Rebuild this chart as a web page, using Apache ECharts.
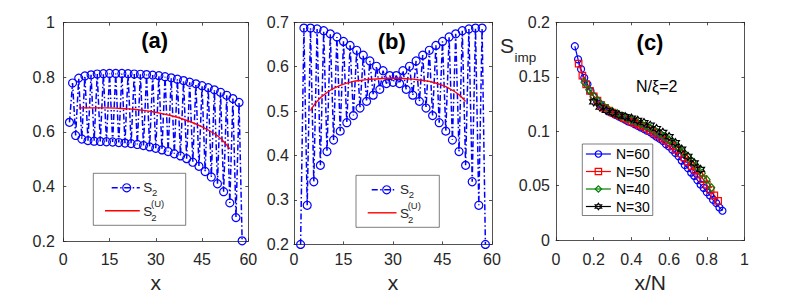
<!DOCTYPE html>
<html><head><meta charset="utf-8">
<script src="https://cdn.jsdelivr.net/npm/echarts@6/dist/echarts.min.js"></script>
<style>html,body{margin:0;padding:0;background:#fff}#c{width:789px;height:298px}</style>
</head><body><div id="c"></div>
<script>
// ---------- data ----------
const sites = [2,3,4,5,6,7,8,9,10,11,12,13,14,15,16,17,18,19,20,21,22,23,24,25,26,27,28,29,30,31,32,33,34,35,36,37,38,39,40,41,42,43,44,45,46,47,48,49,50,51,52,53,54,55,56,57,58];
const s2A = [0.635,0.779,0.587,0.797,0.574,0.805,0.568,0.809,0.566,0.812,0.565,0.813,0.564,0.814,0.563,0.814,0.561,0.814,0.559,0.813,0.557,0.812,0.554,0.811,0.550,0.810,0.545,0.808,0.540,0.806,0.534,0.802,0.528,0.798,0.520,0.793,0.512,0.788,0.502,0.782,0.489,0.776,0.474,0.769,0.455,0.762,0.435,0.754,0.410,0.745,0.381,0.734,0.340,0.722,0.286,0.708,0.201];
const uA_x = [5,8,11,14,17,20,23,26,29,32,35,38,41,44,47,50,52,54];
const uA_y = [0.688,0.688,0.688,0.688,0.687,0.685,0.683,0.679,0.674,0.667,0.659,0.650,0.638,0.624,0.607,0.586,0.565,0.538];
const s2B = [0.200,0.687,0.288,0.687,0.341,0.685,0.378,0.681,0.409,0.674,0.435,0.667,0.455,0.657,0.474,0.648,0.490,0.637,0.507,0.626,0.522,0.613,0.536,0.601,0.549,0.591,0.562,0.580,0.565,0.580,0.562,0.591,0.549,0.601,0.536,0.613,0.522,0.626,0.507,0.637,0.490,0.648,0.474,0.657,0.455,0.667,0.435,0.674,0.409,0.681,0.378,0.685,0.341,0.687,0.288,0.687,0.200];
const uB_x = [5,6,7,8,9,10,12,14,16,18,20,22,24,26,28,30,32,34,36,38,40,42,44,46,48,50,52];
const uB_y = [0.501,0.513,0.522,0.530,0.536,0.542,0.551,0.558,0.563,0.567,0.569,0.571,0.572,0.573,0.574,0.574,0.574,0.573,0.572,0.570,0.568,0.565,0.561,0.555,0.547,0.537,0.522];
const n60_x = [0.100,0.117,0.133,0.150,0.167,0.183,0.200,0.217,0.233,0.250,0.267,0.283,0.300,0.317,0.333,0.350,0.367,0.383,0.400,0.417,0.433,0.450,0.467,0.483,0.500,0.517,0.533,0.550,0.567,0.583,0.600,0.617,0.633,0.650,0.667,0.683,0.700,0.717,0.733,0.750,0.767,0.783,0.800,0.817,0.833,0.850,0.867,0.883];
const n60_y = [0.178,0.166,0.157,0.149,0.143,0.137,0.132,0.128,0.125,0.122,0.120,0.118,0.1165,0.115,0.1135,0.112,0.1105,0.109,0.108,0.1065,0.105,0.1035,0.102,0.1005,0.099,0.097,0.095,0.093,0.091,0.088,0.086,0.083,0.080,0.077,0.073,0.069,0.066,0.062,0.059,0.055,0.051,0.048,0.044,0.041,0.037,0.034,0.030,0.027];
const n50_x = [0.12,0.14,0.16,0.18,0.20,0.22,0.24,0.26,0.28,0.30,0.32,0.34,0.36,0.38,0.40,0.42,0.44,0.46,0.48,0.50,0.52,0.54,0.56,0.58,0.60,0.62,0.64,0.66,0.68,0.70,0.72,0.74,0.76,0.78,0.80,0.82,0.84,0.86];
const n50_y = [0.162,0.151,0.143,0.137,0.132,0.128,0.124,0.1215,0.119,0.117,0.1155,0.114,0.112,0.1105,0.109,0.1075,0.106,0.1045,0.1025,0.1005,0.0985,0.0965,0.094,0.0915,0.089,0.086,0.083,0.0795,0.076,0.072,0.068,0.064,0.060,0.056,0.051,0.046,0.041,0.036];
const n40_x = [0.150,0.175,0.200,0.225,0.250,0.275,0.300,0.325,0.350,0.375,0.400,0.425,0.450,0.475,0.500,0.525,0.550,0.575,0.600,0.625,0.650,0.675,0.700,0.725,0.750,0.775,0.800,0.825];
const n40_y = [0.145,0.138,0.132,0.1275,0.1235,0.1205,0.118,0.116,0.114,0.1125,0.1105,0.109,0.107,0.105,0.103,0.1005,0.098,0.095,0.092,0.089,0.085,0.081,0.0765,0.072,0.067,0.0615,0.0555,0.048];
const n30_x = [0.2000,0.2333,0.2667,0.3000,0.3333,0.3667,0.4000,0.4333,0.4667,0.5000,0.5333,0.5667,0.6000,0.6333,0.6667,0.7000,0.7333,0.7667];
const n30_y = [0.127,0.122,0.119,0.117,0.115,0.1135,0.112,0.110,0.108,0.1055,0.1025,0.099,0.095,0.0895,0.0835,0.077,0.071,0.065];
const xTicksAB = [0, 60, 15];
const yTicksA = [0.2, 1, 0.2];
const yTicksB = [0.2, 0.7, 0.1];
const xTicksC = [0, 1, 0.2];
const yTicksC = [0, 0.2, 0.05];

// ---------- helpers ----------
const FONT = "'Liberation Sans', Arial, Helvetica, sans-serif";
const AX = '#262626';
const pair = (xs, ys) => xs.map((x, i) => [x, ys[i]]);
const grids = [
  {left: 63.3, top: 22.7, width: 185, height: 221.8},
  {left: 294, top: 22.3, width: 198, height: 224.7},
  {left: 556, top: 22.3, width: 188.5, height: 221}
];
const ticks = [[xTicksAB, yTicksA], [xTicksAB, yTicksB], [xTicksC, yTicksC]];
const xMargins = [10, 6.7, 11], yMargins = [8.5, 5, 6];
const xNames = ['x', 'x', 'x/N'], xNameGaps = [25.5, 22, 25.5];
const xAxis = [], yAxis = [];
grids.forEach((g, i) => {
  const [xt, yt] = ticks[i];
  const base = (show, margin) => ({
    axisLine: {show: true, onZero: false, lineStyle: {color: AX, width: 0.8}},
    axisTick: {show: true, inside: true, length: 3, lineStyle: {color: AX, width: 0.8}},
    splitLine: {show: false},
    axisLabel: {show: show, margin: margin, color: AX, fontSize: 16, fontFamily: FONT}
  });
  xAxis.push(Object.assign({type: 'value', gridIndex: i, position: 'bottom', min: xt[0], max: xt[1], interval: xt[2],
    name: xNames[i], nameLocation: 'middle', nameGap: xNameGaps[i],
    nameTextStyle: {fontSize: 21, color: AX, fontFamily: FONT}}, base(true, xMargins[i])));
  xAxis.push(Object.assign({type: 'value', gridIndex: i, position: 'top', min: xt[0], max: xt[1], interval: xt[2]}, base(false, 8)));
  yAxis.push(Object.assign({type: 'value', gridIndex: i, position: 'left', min: yt[0], max: yt[1], interval: yt[2]}, base(true, yMargins[i])));
  yAxis.push(Object.assign({type: 'value', gridIndex: i, position: 'right', min: yt[0], max: yt[1], interval: yt[2]}, base(false, 8)));
});

const BLUE = '#0000ff', RED = '#ff0000', GREEN = '#008000', BLACK = '#000000';
const dashDot = [6, 2.5, 1.5, 2.5];
function s2Series(name, gi, ys) {
  return {name: name, type: 'line', xAxisIndex: gi * 2, yAxisIndex: gi * 2, data: pair(sites, ys),
    symbol: 'circle', symbolSize: 8, clip: false, z: 2,
    itemStyle: {color: 'rgba(0,0,0,0)', borderColor: BLUE, borderWidth: 1.2},
    lineStyle: {color: BLUE, width: 1.5, type: dashDot}};
}
function uSeries(name, gi, xs, ys) {
  return {name: name, type: 'line', xAxisIndex: gi * 2, yAxisIndex: gi * 2, data: pair(xs, ys),
    symbol: 'none', smooth: 0.3, z: 3, lineStyle: {color: RED, width: 1.4}};
}
function cSeries(name, xs, ys, color, symbol, size) {
  return {name: name, type: 'line', xAxisIndex: 4, yAxisIndex: 4, data: pair(xs, ys),
    symbol: symbol, symbolSize: size, clip: false,
    itemStyle: {color: 'rgba(0,0,0,0)', borderColor: color, borderWidth: 1.2},
    lineStyle: {color: color, width: 1.2}};
}
const HEX = 'path://M0,-10L2.887,-5L8.660,-5L5.774,0L8.660,5L2.887,5L0,10L-2.887,5L-8.660,5L-5.774,0L-8.660,-5L-2.887,-5Z';

const series = [
  s2Series('S2 (a)', 0, s2A), uSeries('S2U (a)', 0, uA_x, uA_y),
  s2Series('S2 (b)', 1, s2B), uSeries('S2U (b)', 1, uB_x, uB_y),
  cSeries('N=60', n60_x, n60_y, BLUE, 'circle', 7),
  cSeries('N=50', n50_x, n50_y, RED, 'rect', 6.5),
  cSeries('N=40', n40_x, n40_y, GREEN, 'diamond', [6.5, 8]),
  cSeries('N=30', n30_x, n30_y, BLACK, HEX, 8)
];

// legends of (a) and (b) drawn as graphic groups (sub/superscripts)
function s2Legend(bx, by, bw, lineStart, circX, textX) {
  const y1 = by + 14.5, y2 = by + 37.5;
  return [
    {type: 'rect', shape: {x: bx, y: by, width: bw, height: 52}, style: {fill: '#fff', stroke: AX, lineWidth: 0.6}, z: 10},
    {type: 'line', shape: {x1: lineStart, y1: y1, x2: textX - 3.5, y2: y1}, style: {stroke: BLUE, lineWidth: 1.5, lineDash: dashDot}, z: 11},
    {type: 'circle', shape: {cx: circX, cy: y1, r: 4}, style: {fill: 'none', stroke: BLUE, lineWidth: 1.2}, z: 11},
    {type: 'text', x: textX, y: y1, style: {text: 'S', fontSize: 13.5, fontFamily: FONT, fill: AX, verticalAlign: 'middle'}, z: 11},
    {type: 'text', x: textX + 8.7, y: y1 + 5, style: {text: '2', fontSize: 9.5, fontFamily: FONT, fill: AX, verticalAlign: 'middle'}, z: 11},
    {type: 'line', shape: {x1: bx + 11.7, y1: y2, x2: textX - 3.5, y2: y2}, style: {stroke: RED, lineWidth: 1.4}, z: 11},
    {type: 'text', x: textX, y: y2 + 1, style: {text: 'S', fontSize: 13.5, fontFamily: FONT, fill: AX, verticalAlign: 'middle'}, z: 11},
    {type: 'text', x: textX + 7.7, y: y2 - 7.5, style: {text: '(U)', fontSize: 9.5, fontFamily: FONT, fill: AX, verticalAlign: 'middle'}, z: 11},
    {type: 'text', x: textX + 8, y: y2 + 6.5, style: {text: '2', fontSize: 9.5, fontFamily: FONT, fill: AX, verticalAlign: 'middle'}, z: 11}
  ];
}
const titleStyle = (t) => ({text: t, fontSize: 22, fontWeight: 'bold', fontFamily: FONT, fill: '#000', align: 'center', verticalAlign: 'middle'});
const graphic = [].concat(
  s2Legend(93.3, 173.3, 92.4, 111.7, 126.7, 143.3),
  s2Legend(356, 175.3, 83.3, 371.7, 386.7, 400),
  [
    {type: 'text', x: 154.7, y: 40.5, style: titleStyle('(a)')},
    {type: 'text', x: 391.7, y: 41.7, style: titleStyle('(b)')},
    {type: 'text', x: 650, y: 42.7, style: titleStyle('(c)')},
    {type: 'text', x: 656.7, y: 86, style: {text: 'N/ξ=2', fontSize: 16, fontFamily: FONT, fill: '#000', align: 'center', verticalAlign: 'middle'}},
    {type: 'text', x: 500, y: 45.8, style: {text: 'S', fontSize: 21, fontFamily: FONT, fill: AX, verticalAlign: 'middle'}},
    {type: 'text', x: 514.5, y: 57.6, style: {text: 'imp', fontSize: 13.5, fontFamily: FONT, fill: AX, verticalAlign: 'middle'}}
  ]
);

const chart = echarts.init(document.getElementById('c'), null, {renderer: 'svg'});
chart.setOption({
  animation: false,
  backgroundColor: '#fff',
  grid: grids,
  xAxis: xAxis,
  yAxis: yAxis,
  legend: {
    show: true, orient: 'vertical', left: 582.3, top: 144,
    data: ['N=60', 'N=50', 'N=40', 'N=30'],
    itemWidth: 25, itemHeight: 8, itemGap: 3.5, padding: [3, 3, 2, 3],
    textStyle: {fontSize: 14, color: '#000', lineHeight: 14, fontFamily: FONT},
    backgroundColor: '#fff', borderColor: AX, borderWidth: 0.6, borderRadius: 0,
    itemStyle: {borderWidth: 1.2}, lineStyle: {width: 1.2}, selectedMode: false
  },
  series: series,
  graphic: graphic
});
</script>
</body></html>
